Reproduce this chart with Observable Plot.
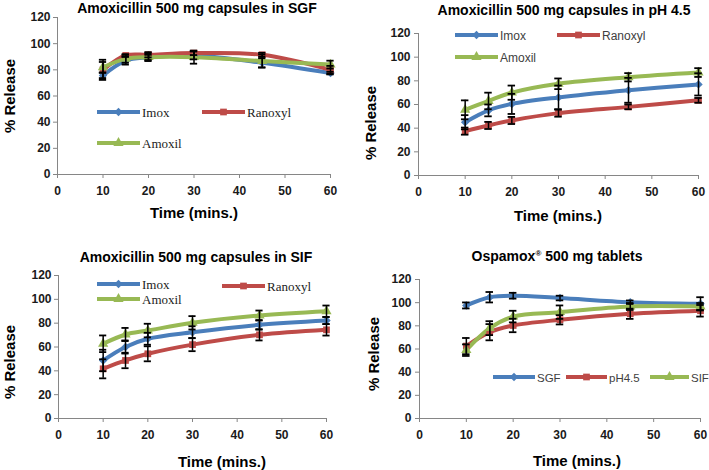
<!DOCTYPE html>
<html><head><meta charset="utf-8">
<script src="https://cdn.jsdelivr.net/npm/d3@7"></script>
<script src="https://cdn.jsdelivr.net/npm/@observablehq/plot@0.6"></script>
<style>
body{margin:0;background:#fff}
#wrap{position:relative;width:709px;height:470px;overflow:hidden;background:#fff}
#wrap svg{position:absolute}
</style></head><body><div id="wrap"></div>
<script>
// ---------- data ----------
const times = [10, 15, 20, 30, 45, 60];
const xTicks = [0, 10, 20, 30, 40, 50, 60];
const yTicks = [0, 20, 40, 60, 80, 100, 120];

const titles = ["Amoxicillin 500 mg capsules in SGF", "Amoxicillin 500 mg capsules in pH 4.5",
                "Amoxicillin 500 mg capsules in SIF", "Ospamox\u00AE 500 mg tablets"];
const xLabel = "Time (mins.)";
const yLabel = "% Release";

const brandNames = ["Imox", "Ranoxyl", "Amoxil"];
const mediumNames = ["SGF", "pH4.5", "SIF"];

// SGF panel
const sgfImox = [75.7, 87, 89.5, 91, 85.4, 77.5];
const sgfImoxErr = [2, 3, 2, 3, 3.5, 1];
const sgfRanoxyl = [80, 91, 91.5, 92.8, 91.5, 80];
const sgfRanoxylErr = [7.7, 1, 2, 1.5, 1.5, 3];
const sgfAmoxil = [82, 88.4, 89.7, 89.7, 86.7, 84];
const sgfAmoxilErr = [4, 3, 3, 5, 5, 3];
// pH 4.5 panel
const phImox = [45, 55, 60.5, 66, 72, 77];
const phImoxErr = [6, 5, 8.5, 10, 10.5, 9.4];
const phRanoxyl = [37.5, 42.3, 46.5, 52.7, 58, 63.5];
const phRanoxylErr = [3, 3, 3, 3, 2, 2];
const phAmoxil = [55.5, 63, 70, 77.5, 83, 87];
const phAmoxilErr = [8, 7, 6, 4.5, 3.5, 3.7];
// SIF panel
const sifImox = [48.7, 60, 66.9, 72.4, 78.6, 82.2];
const sifImoxErr = [9, 5.5, 5, 5, 4, 3];
const sifRanoxyl = [41.7, 48.7, 54.3, 62, 70.2, 74.4];
const sifRanoxylErr = [8, 6.5, 6.3, 5.5, 4.7, 4.8];
const sifAmoxil = [62.7, 70.5, 73.8, 80.3, 86.4, 90];
const sifAmoxilErr = [7, 5.5, 5.7, 5.6, 4.2, 4.8];
// Ospamox panel
const ospSGF = [97.6, 104.7, 106, 104, 100.4, 99];
const ospSGFErr = [2.6, 4.5, 2.5, 2, 1.5, 5.7];
const ospPH = [62.5, 74.5, 80.3, 85.2, 90.4, 93];
const ospPHErr = [7, 7, 5.8, 4, 4.4, 5];
const ospSIF = [59, 78, 88, 91.8, 96.7, 96.7];
const ospSIFErr = [5, 6, 5, 5.8, 3, 3];

// ---------- style ----------
const colors = ["#4A7EBB", "#BE4B48", "#98B954"];
const symbolNames = ["diamond2", "square", "triangle"];
const d3Symbols = [d3.symbolDiamond2, d3.symbolSquare, d3.symbolTriangle];
const sans = "'Liberation Sans', Arial, sans-serif";
const serif = "'Liberation Serif', 'Times New Roman', serif";

const wrap = document.getElementById("wrap");

function series(names, vals, errs) {
  return names.map((n, k) => ({name: n, values: vals[k], errors: errs[k]}));
}

function makePanel(p) {
  const rows = [];
  p.series.forEach(s => times.forEach((t, i) => rows.push({t, v: s.values[i], e: s.errors[i], name: s.name})));
  const names = p.series.map(s => s.name);
  const chart = Plot.plot({
    width: p.w, height: p.h,
    marginLeft: p.ml, marginRight: p.mr, marginTop: p.mt, marginBottom: p.mb,
    style: {background: "transparent", fontFamily: sans, fontSize: "12px", fontWeight: "bold", overflow: "visible"},
    x: {domain: [0, 60]},
    y: {domain: [0, 120]},
    color: {domain: names, range: colors},
    symbol: {domain: names, range: symbolNames},
    marks: [
      Plot.axisX(xTicks, {tickSize: 4, tickPadding: 8, stroke: "#868686", fill: "#1a1a1a", label: null}),
      Plot.axisY(yTicks, {tickSize: 4, tickPadding: p.tp, stroke: "#868686", fill: "#1a1a1a", label: null}),
      Plot.ruleX([0], {stroke: "#868686"}),
      Plot.ruleY([0], {stroke: "#868686"}),
      Plot.line(rows, {x: "t", y: "v", z: "name", stroke: "name", strokeWidth: 4, curve: "catmull-rom"}),
      Plot.dot(rows, {x: "t", y: "v", symbol: "name", fill: "name", r: 3.8}),
      Plot.ruleX(rows, {x: "t", y1: d => d.v - d.e, y2: d => d.v + d.e, stroke: "#000", strokeWidth: 1.5}),
      Plot.ruleY(rows, {y: d => d.v + d.e, x1: d => d.t - 0.8, x2: d => d.t + 0.8, stroke: "#000", strokeWidth: 1.8}),
      Plot.ruleY(rows, {y: d => d.v - d.e, x1: d => d.t - 0.8, x2: d => d.t + 0.8, stroke: "#000", strokeWidth: 1.8})
    ]
  });
  chart.style.left = p.x + "px";
  chart.style.top = p.y + "px";
  wrap.appendChild(chart);
}

const panels = [
  {x: 0, y: 0, w: 355, h: 235, ml: 57, mr: 25, mt: 17, mb: 61, tp: 3,
   series: series(brandNames, [sgfImox, sgfRanoxyl, sgfAmoxil], [sgfImoxErr, sgfRanoxylErr, sgfAmoxilErr])},
  {x: 355, y: 0, w: 354, h: 235, ml: 63, mr: 11, mt: 33, mb: 60, tp: 4,
   series: series(brandNames, [phImox, phRanoxyl, phAmoxil], [phImoxErr, phRanoxylErr, phAmoxilErr])},
  {x: 0, y: 235, w: 355, h: 235, ml: 58, mr: 29, mt: 40, mb: 52, tp: 3,
   series: series(brandNames, [sifImox, sifRanoxyl, sifAmoxil], [sifImoxErr, sifRanoxylErr, sifAmoxilErr])},
  {x: 355, y: 235, w: 354, h: 235, ml: 64, mr: 9, mt: 44, mb: 52, tp: 4,
   series: series(mediumNames, [ospSGF, ospPH, ospSIF], [ospSGFErr, ospPHErr, ospSIFErr])}
];
panels.forEach(makePanel);

// ---------- text overlay: titles, axis labels, legends ----------
const ov = d3.create("svg").attr("width", 709).attr("height", 470)
  .style("left", "0px").style("top", "0px").style("pointer-events", "none");

const titlePos = [[197, 12.7], [564, 15], [196, 261.7], [557, 261]];
titles.forEach((t, i) => {
  const txt = ov.append("text").attr("x", titlePos[i][0]).attr("y", titlePos[i][1])
    .attr("text-anchor", "middle").attr("font-family", sans).attr("font-weight", "bold")
    .attr("font-size", 14).attr("fill", "#000");
  if (t.includes("\u00AE")) {
    const parts = t.split("\u00AE");
    txt.append("tspan").text(parts[0]);
    txt.append("tspan").attr("font-size", 8).attr("dy", -5).text("\u00AE");
    txt.append("tspan").attr("dy", 5).text(parts[1]);
  } else txt.text(t);
});

const xLabPos = [[194, 218], [558, 221], [222, 466.5], [577, 466]];
xLabPos.forEach(([x, y]) => ov.append("text").attr("x", x).attr("y", y).attr("text-anchor", "middle")
  .attr("font-family", sans).attr("font-weight", "bold").attr("font-size", 15).attr("fill", "#000").text(xLabel));

const yLabPos = [[15, 96], [375.5, 123], [15, 362], [379, 354]];
yLabPos.forEach(([x, y]) => ov.append("text").attr("transform", `translate(${x},${y}) rotate(-90)`)
  .attr("text-anchor", "middle").attr("font-family", sans).attr("font-weight", "bold")
  .attr("font-size", 15).attr("fill", "#000").text(yLabel));

function legendItem(x1, len, y, k, label, serifFont, fs) {
  ov.append("line").attr("x1", x1).attr("x2", x1 + len).attr("y1", y).attr("y2", y)
    .attr("stroke", colors[k]).attr("stroke-width", 4);
  ov.append("path").attr("transform", `translate(${x1 + len / 2},${y})`)
    .attr("d", d3.symbol(d3Symbols[k], 45)()).attr("fill", colors[k]);
  ov.append("text").attr("x", x1 + len + 2).attr("y", y + 4.5)
    .attr("font-family", serifFont ? serif : sans).attr("font-size", fs)
    .attr("fill", serifFont ? "#222" : "#404040").text(label);
}
// panel 1
legendItem(97, 43, 112, 0, brandNames[0], true, 13);
legendItem(202, 43, 112, 1, brandNames[1], true, 13);
legendItem(97, 43, 143, 2, brandNames[2], true, 13);
// panel 2
legendItem(455, 43, 35, 0, brandNames[0], false, 12);
legendItem(557, 43, 35, 1, brandNames[1], false, 12);
legendItem(455, 43, 57, 2, brandNames[2], false, 12);
// panel 3
legendItem(97, 43, 284, 0, brandNames[0], true, 13);
legendItem(222, 43, 286, 1, brandNames[1], true, 13);
legendItem(97, 43, 299, 2, brandNames[2], true, 13);
// panel 4
legendItem(493, 42, 377, 0, mediumNames[0], false, 11.5);
legendItem(566, 41, 377, 1, mediumNames[1], false, 11.5);
legendItem(650, 39, 377, 2, mediumNames[2], false, 11.5);

wrap.appendChild(ov.node());
</script>
</body></html>
